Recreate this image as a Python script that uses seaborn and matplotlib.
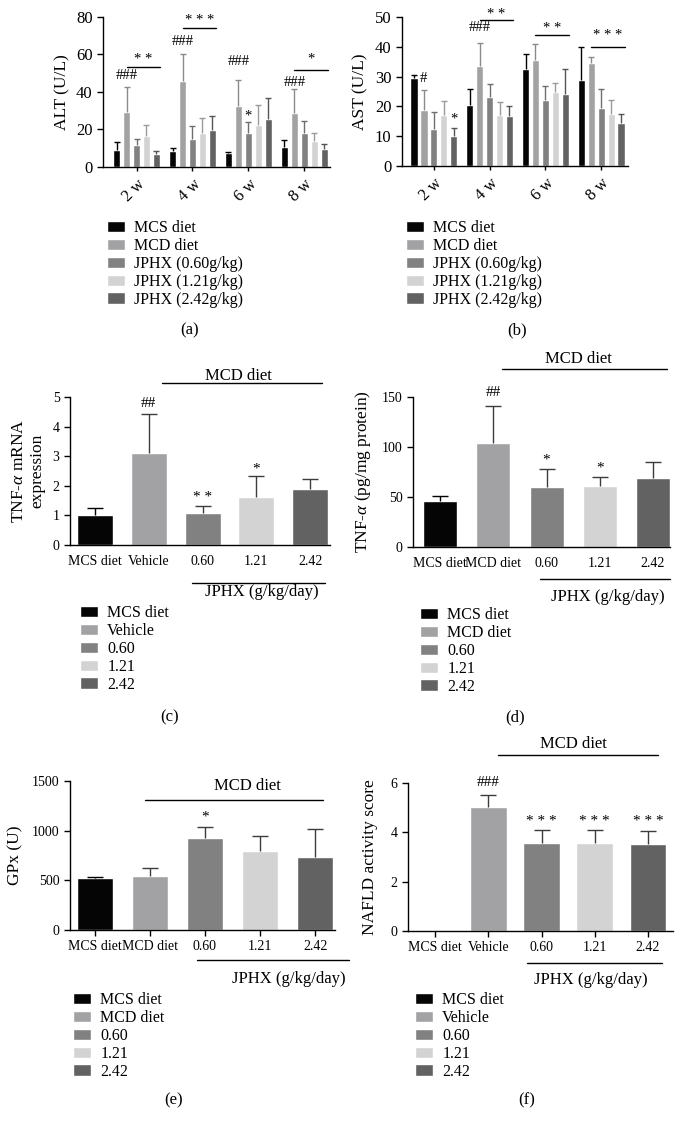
import numpy as np
import pandas as pd
import seaborn as sns
import matplotlib
matplotlib.use("Agg")
import matplotlib.pyplot as plt
from matplotlib.lines import Line2D

# ---- data ----
weeks = ["2 w", "4 w", "6 w", "8 w"]
time_groups = ["MCS diet", "MCD diet", "JPHX (0.60g/kg)", "JPHX (1.21g/kg)", "JPHX (2.42g/kg)"]

# rows = groups, columns = weeks
alt_mean = [[8.9, 8.4, 7.6, 10.7],
            [29.3, 45.9, 32.4, 29.0],
            [11.6, 14.8, 18.3, 18.1],
            [16.4, 18.3, 22.2, 13.7],
            [6.8, 19.6, 25.8, 9.8]]
alt_sd = [[4.4, 1.7, 0.6, 3.5],
          [13.4, 14.2, 14.2, 12.4],
          [3.5, 7.2, 5.5, 6.3],
          [5.8, 8.0, 11.0, 4.4],
          [1.7, 7.6, 11.0, 2.6]]
ast_mean = [[29.6, 20.4, 32.7, 29.0],
            [18.7, 33.6, 35.5, 34.6],
            [12.3, 23.2, 22.1, 19.3],
            [17.0, 17.0, 24.9, 17.6],
            [10.1, 16.8, 24.1, 14.4]]
ast_sd = [[0.9, 5.4, 4.8, 11.0],
          [6.7, 7.8, 5.4, 2.0],
          [5.8, 4.2, 4.8, 6.5],
          [4.8, 4.5, 2.8, 4.5],
          [2.8, 3.4, 8.6, 3.2]]

mrna_groups = ["MCS diet", "Vehicle", "0.60", "1.21", "2.42"]
mrna_mean = [1.02, 3.10, 1.09, 1.61, 1.88]
mrna_sd = [0.22, 1.34, 0.23, 0.73, 0.34]

prot_groups = ["MCS diet", "MCD diet", "0.60", "1.21", "2.42"]
prot_mean = [45.9, 103.8, 60.3, 61.3, 68.6]
prot_sd = [5.0, 37.5, 17.7, 8.3, 16.8]

gpx_groups = ["MCS diet", "MCD diet", "0.60", "1.21", "2.42"]
gpx_mean = [527, 544, 923, 795, 738]
gpx_sd = [10, 77, 111, 155, 279]

nas_groups = ["MCS diet", "Vehicle", "0.60", "1.21", "2.42"]
nas_mean = [0.0, 5.04, 3.57, 3.57, 3.53]
nas_sd = [0.0, 0.48, 0.52, 0.52, 0.51]

colors = ["#050505", "#a2a2a5", "#818181", "#d3d3d3", "#626262"]
err_colors_time = ["#000000", "#8a8a8c", "#6e6e6e", "#9a9a9a", "#555555"]

W, H = 685, 1132

sns.set_theme(style="ticks")
plt.rcParams["font.family"] = ["Liberation Serif", "DejaVu Serif"]
plt.rcParams["mathtext.fontset"] = "custom"
plt.rcParams["mathtext.rm"] = "Liberation Serif"
plt.rcParams["mathtext.it"] = "Liberation Serif:italic"
for key in ["text.color", "axes.labelcolor", "xtick.color", "ytick.color", "axes.edgecolor"]:
    plt.rcParams[key] = "black"
plt.rcParams["axes.linewidth"] = 1.0

fig = plt.figure(figsize=(W / 100, H / 100), dpi=100)


def fpx(x, y):
    """pixel position -> figure fraction"""
    return x / W, 1 - y / H


def make_axes(left, top, right, bottom):
    return fig.add_axes([left / W, 1 - bottom / H, (right - left) / W, (bottom - top) / H])


def style_axes(ax, ymax, ystep, xlim, ylabel, label_px, left, right, tick_size):
    ax.set_ylim(0, ymax)
    ax.set_yticks(np.arange(0, ymax + ystep / 2, ystep))
    ax.set_xlim(*xlim)
    ax.set_xlabel("")
    ax.set_ylabel(ylabel, fontsize=12.5)
    ax.yaxis.set_label_coords((label_px - left) / (right - left), 0.5)
    ax.tick_params(axis="both", labelsize=tick_size, width=1, length=4)
    sns.despine(ax=ax)


def upper_errors(ax, sds, ecolors, capsize):
    # one-sided (upper) error bars on the bars seaborn drew
    for cont, sd, ec in zip(ax.containers, sds, ecolors):
        xs = np.array([p.get_x() + p.get_width() / 2 for p in cont])
        hs = np.array([p.get_height() for p in cont])
        sd = np.atleast_1d(sd)
        keep = sd > 0
        if keep.any():
            eb = ax.errorbar(xs[keep], hs[keep], yerr=[np.zeros(keep.sum()), sd[keep]], fmt="none",
                             ecolor=ec, elinewidth=1, capsize=capsize, capthick=1)
            # hide the cap sitting on the bar top
            eb[1][0].set_visible(False)


def legend_below(ax, x, y):
    sns.move_legend(ax, "upper left", bbox_to_anchor=fpx(x, y), bbox_transform=fig.transFigure,
                    frameon=False, title="", fontsize=11.5, handlelength=1.1, handleheight=0.7,
                    handletextpad=0.6, labelspacing=0.12, borderpad=0, borderaxespad=0)


def time_panel(box, means, sds, ylabel, ymax, ystep, xlim, label_px, marks, brackets, leg_xy):
    ax = make_axes(*box)
    df = pd.DataFrame({"week": np.tile(weeks, len(time_groups)),
                       "group": np.repeat(time_groups, len(weeks)),
                       "value": np.ravel(means)})
    sns.barplot(data=df, x="week", y="value", hue="group", hue_order=time_groups, palette=colors,
                width=0.89, gap=0.27, errorbar=None, saturation=1, ax=ax)
    upper_errors(ax, sds, err_colors_time, 2)
    style_axes(ax, ymax, ystep, xlim, ylabel, label_px, box[0], box[2], 12)
    for lab in ax.get_xticklabels():
        lab.set_rotation(45)
        lab.set_ha("right")
        lab.set_rotation_mode("anchor")
    ax.tick_params(axis="x", length=3)
    for week, grp, text, y in marks:
        bar = ax.containers[grp][week]
        ax.text(bar.get_x() + bar.get_width() / 2, y, text, ha="center", va="center",
                fontsize=10.5, clip_on=False)
    for week, text, y_line, y_text in brackets:
        b0 = ax.containers[1][week]
        b1 = ax.containers[4][week]
        x0 = b0.get_x() + b0.get_width() / 2
        x1 = b1.get_x() + b1.get_width()
        ax.plot([x0, x1], [y_line, y_line], color="black", lw=1, clip_on=False)
        ax.text((x0 + x1) / 2, y_text, text, ha="center", va="center", fontsize=10.5, clip_on=False)
    legend_below(ax, *leg_xy)
    return ax


def cat_panel(box, groups, means, sds, ylabel, ymax, ystep, xlim, width, label_px, marks,
              mcd_line, jphx_line, leg_xy, xticks=True):
    ax = make_axes(*box)
    sns.barplot(x=groups, y=means, hue=groups, palette=colors, width=width, errorbar=None,
                saturation=1, legend=False, ax=ax)
    upper_errors(ax, sds, ["#000000"] + ["#3c3c3c"] * 4, 6)
    style_axes(ax, ymax, ystep, xlim, ylabel, label_px, box[0], box[2], 10)
    if not xticks:
        ax.tick_params(axis="x", length=0, pad=7)
    for idx, text, y in marks:
        bar = ax.containers[idx][0]
        ax.text(bar.get_x() + bar.get_width() / 2, y, text, ha="center", va="center",
                fontsize=11, clip_on=False)
    # "MCD diet" bracket above, "JPHX" bracket below
    x0, x1, yl, xt, yt = mcd_line
    fig.add_artist(Line2D([x0 / W, x1 / W], [1 - yl / H] * 2, color="black", lw=1,
                          transform=fig.transFigure))
    fig.text(*fpx(xt, yt), "MCD diet", ha="center", va="baseline", fontsize=12)
    x0, x1, yl, xt, yt = jphx_line
    fig.add_artist(Line2D([x0 / W, x1 / W], [1 - yl / H] * 2, color="black", lw=1,
                          transform=fig.transFigure))
    fig.text(*fpx(xt, yt), "JPHX (g/kg/day)", ha="center", va="baseline", fontsize=12)
    # legend built from the drawn bars
    ax.legend([c[0] for c in ax.containers], groups)
    legend_below(ax, *leg_xy)
    return ax


# (a) ALT
time_panel((103, 17, 330, 167), alt_mean, alt_sd, "ALT (U/L)", 80, 20, (-0.6, 3.46), 70,
           marks=[(0, 1, "###", 49), (1, 1, "###", 67), (2, 1, "###", 56), (3, 1, "###", 45),
                  (2, 2, "*", 27)],
           brackets=[(0, "* *", 53.3, 57.5), (1, "* * *", 74, 78), (3, "*", 51.7, 57.5)],
           leg_xy=(107, 220))

# (b) AST
time_panel((402, 17, 628, 166), ast_mean, ast_sd, "AST (U/L)", 50, 10, (-0.57, 3.48), 368,
           marks=[(0, 1, "#", 29.5), (0, 4, "*", 15.8), (1, 1, "###", 46.6)],
           brackets=[(1, "* *", 49, 50.8), (2, "* *", 44, 46.2), (3, "* * *", 40, 43.8)],
           leg_xy=(406, 220))

# (c) TNF-a mRNA
cat_panel((70, 397, 330, 545), mrna_groups, mrna_mean, mrna_sd,
          "TNF-$\\alpha$ mRNA\nexpression", 5, 1, (-0.465, 4.37), 0.67, 45,
          marks=[(1, "##", 4.77), (2, "* *", 1.6), (3, "*", 2.57)],
          mcd_line=(162, 322, 383, 238, 380), jphx_line=(192, 325, 583, 262, 596),
          leg_xy=(80, 605), xticks=False)

# (d) TNF-a protein
cat_panel((413, 397, 670, 547), prot_groups, prot_mean, prot_sd,
          "TNF-$\\alpha$ (pg/mg protein)", 150, 50, (-0.51, 4.32), 0.64, 373,
          marks=[(1, "##", 154), (2, "*", 87), (3, "*", 79)],
          mcd_line=(502, 667, 369, 578, 363), jphx_line=(540, 670, 579, 608, 601),
          leg_xy=(420, 607), xticks=False)

# (e) GPx
cat_panel((70, 781, 335, 930), gpx_groups, gpx_mean, gpx_sd, "GPx (U)", 1500, 500,
          (-0.45, 4.36), 0.66, 23,
          marks=[(2, "*", 1140)],
          mcd_line=(145, 323, 800, 247, 790), jphx_line=(197, 349, 960, 289, 983),
          leg_xy=(73, 992))

# (f) NAFLD activity score
cat_panel((408, 783, 673, 931), nas_groups, nas_mean, nas_sd, "NAFLD activity score", 6, 2,
          (-0.51, 4.47), 0.69, 378,
          marks=[(1, "###", 6.0), (2, "* * *", 4.45), (3, "* * *", 4.45), (4, "* * *", 4.45)],
          mcd_line=(498, 658, 755, 573, 748), jphx_line=(527, 662, 963, 591, 984),
          leg_xy=(415, 992))

# panel letters
for letter, x, y in [("(a)", 190, 330), ("(b)", 517, 330), ("(c)", 170, 717),
                     ("(d)", 515, 717), ("(e)", 174, 1100), ("(f)", 527, 1100)]:
    fig.text(*fpx(x, y), letter, ha="center", va="center", fontsize=12)

fig.savefig("out.png", dpi=100)
